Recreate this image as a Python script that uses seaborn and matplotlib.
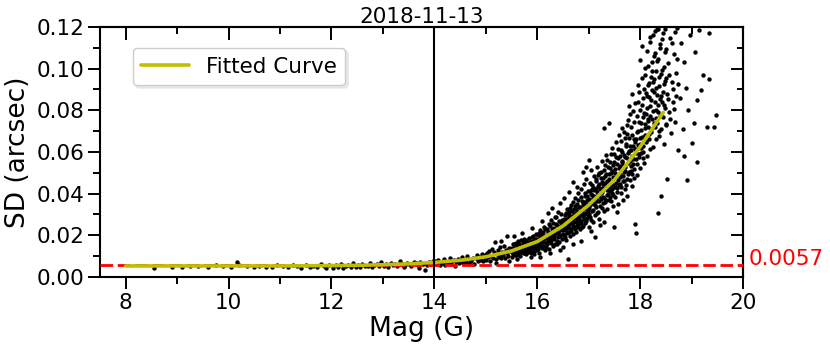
import numpy as np
import pandas as pd
import matplotlib
matplotlib.use("Agg")
import matplotlib.pyplot as plt
from matplotlib.ticker import MultipleLocator
import seaborn as sns

# ---------------- data ----------------
title_text = "2018-11-13"
x_label = "Mag (G)"
y_label = "SD (arcsec)"
legend_label = "Fitted Curve"
floor_value = 0.0057          # red dashed reference level (arcsec)
cut_mag = 14.0                # vertical line
x_ticks = [8, 10, 12, 14, 16, 18, 20]
y_ticks = [0.00, 0.02, 0.04, 0.06, 0.08, 0.10, 0.12]

# fitted curve: magnitude and SD (arcsec)
curve_mag = [8.0, 8.5, 9.0, 9.5, 10.0, 10.5, 11.0, 11.5, 12.0, 12.5, 13.0, 13.5,
             14.0, 14.5, 15.0, 15.5, 16.0, 16.5, 17.0, 17.5, 18.0, 18.45]
curve_sd = [0.0053, 0.0053, 0.0053, 0.0053, 0.0053, 0.0053, 0.0053, 0.0054, 0.0055,
            0.0056, 0.0059, 0.0063, 0.0070, 0.0080, 0.0097, 0.0125, 0.0170, 0.0245,
            0.0345, 0.0466, 0.0625, 0.0790]

# scattered stars: (magnitude, SD in milli-arcsec), grouped by magnitude range
stars_bright = [(8.55,4.3),(8.9,5.0),(9.1,4.6),(9.25,5.4),(9.4,5.2),(9.6,4.8),(9.75,5.6),
    (9.9,5.1),(10.05,4.9),(10.17,7.4),(10.2,5.8),(10.35,5.3),(10.5,4.7),(10.6,5.5),(10.72,5.0),
    (10.85,4.6),(10.95,5.7),(11.05,5.2),(11.15,4.8),(11.25,5.9),(11.32,5.1),(11.4,4.5),(11.5,5.6),
    (11.58,5.0),(11.65,5.4),(11.72,4.7),(11.8,6.3),(11.85,5.2),(11.9,4.4),(11.95,5.8)]

stars_12_14 = [(12.02,4.2),(12.08,5.6),(12.12,4.9),(12.18,6.1),(12.22,4.5),(12.28,5.3),(12.33,5.9),
    (12.38,4.7),(12.42,6.6),(12.47,5.0),(12.52,5.8),(12.56,4.6),(12.6,6.3),(12.65,5.4),(12.7,5.1),
    (12.74,6.8),(12.78,4.8),(12.83,5.7),(12.88,6.0),(12.92,5.2),(12.97,7.3),(13.02,5.5),(13.06,6.4),
    (13.1,4.9),(13.15,6.9),(13.2,5.8),(13.24,6.2),(13.28,5.1),(13.33,7.6),(13.37,6.0),(13.42,5.6),
    (13.46,6.8),(13.5,6.3),(13.55,5.3),(13.6,7.1),(13.64,6.5),(13.68,5.9),(13.72,7.4),(13.77,6.2),
    (13.82,3.4),(13.86,5.7),(13.9,7.0),(13.94,6.4),(13.98,7.8),(13.7,4.4),(13.4,4.6)]

stars_14_15 = [(14.02,7.5),(14.05,6.2),(14.08,8.1),(14.1,5.6),(14.13,7.0),(14.16,6.6),(14.19,8.6),
    (14.21,5.9),(14.24,7.3),(14.27,6.8),(14.3,9.0),(14.32,6.1),(14.35,7.7),(14.38,8.3),(14.4,5.4),
    (14.43,7.1),(14.46,8.8),(14.48,6.5),(14.51,7.9),(14.54,9.4),(14.56,6.9),(14.59,8.2),(14.62,7.4),
    (14.64,10.1),(14.67,6.7),(14.7,8.6),(14.72,7.8),(14.75,9.3),(14.78,6.4),(14.8,8.9),(14.83,10.4),
    (14.85,7.6),(14.88,9.8),(14.9,8.3),(14.93,11.2),(14.95,7.9),(14.98,9.1),(14.99,10.7)]

stars_15_16 = [(15.01,8.2),(15.03,11.5),(15.05,9.4),(15.07,12.4),(15.08,7.6),(15.1,10.3),(15.12,13.6),
    (15.14,9.0),(15.16,11.8),(15.18,16.8),(15.19,8.5),(15.21,10.9),(15.23,12.9),(15.25,9.7),(15.27,14.2),
    (15.28,11.1),(15.3,8.9),(15.32,12.2),(15.34,10.4),(15.36,15.1),(15.37,9.3),(15.39,13.0),(15.41,11.6),
    (15.42,19.8),(15.44,10.0),(15.46,14.0),(15.48,12.5),(15.5,9.6),(15.51,11.9),(15.53,16.0),(15.55,13.3),
    (15.57,10.6),(15.58,12.8),(15.6,15.2),(15.62,11.0),(15.63,17.3),(15.65,13.7),(15.67,10.2),(15.69,14.6),
    (15.7,12.1),(15.72,16.4),(15.74,11.4),(15.75,18.1),(15.77,13.9),(15.79,10.8),(15.8,15.5),(15.82,12.6),
    (15.84,17.0),(15.85,14.3),(15.87,11.7),(15.89,19.2),(15.9,13.1),(15.92,16.2),(15.94,10.9),(15.95,15.0),
    (15.97,12.9),(15.98,18.4),(15.99,14.8),(15.6,8.7),(15.88,9.8)]

stars_16_17 = [(16.01,13.2),(16.02,20.1),(16.03,16.4),(16.04,11.6),(16.05,18.7),(16.06,22.4),(16.07,15.0),
    (16.08,19.5),(16.09,13.9),(16.1,17.3),(16.11,21.6),(16.12,14.7),(16.13,18.2),(16.14,24.0),(16.15,12.8),
    (16.16,19.9),(16.17,16.5),(16.18,22.8),(16.19,15.6),(16.2,20.4),(16.21,17.4),(16.22,25.3),(16.23,13.6),
    (16.24,21.1),(16.25,18.9),(16.26,27.5),(16.27,16.2),(16.28,23.0),(16.29,19.7),(16.3,14.9),(16.3,22.1),
    (16.31,26.0),(16.32,18.3),(16.33,23.6),(16.34,15.8),(16.35,20.7),(16.36,28.9),(16.37,22.5),(16.38,17.1),
    (16.39,24.8),(16.4,19.4),(16.4,31.2),(16.41,21.3),(16.42,26.7),(16.43,16.9),(16.44,24.2),(16.45,19.8),
    (16.46,30.1),(16.47,22.7),(16.48,18.4),(16.49,27.4),(16.5,23.9),(16.5,14.6),(16.51,25.6),(16.52,20.3),
    (16.53,29.8),(16.54,23.1),(16.55,17.9),(16.56,27.0),(16.57,32.5),(16.58,21.8),(16.59,25.0),(16.6,8.6),
    (16.6,28.4),(16.61,23.5),(16.62,31.0),(16.63,19.6),(16.64,26.8),(16.65,34.7),(16.66,22.2),(16.67,29.3),
    (16.68,25.4),(16.69,36.2),(16.7,20.8),(16.7,27.9),(16.71,32.6),(16.72,24.1),(16.73,28.7),(16.74,38.0),
    (16.75,21.5),(16.76,30.9),(16.77,26.3),(16.78,35.1),(16.79,23.8),(16.8,29.6),(16.8,40.4),(16.81,27.2),
    (16.82,33.8),(16.83,22.9),(16.84,31.4),(16.85,42.3),(16.86,26.0),(16.87,36.5),(16.88,29.1),(16.89,24.6),
    (16.9,34.0),(16.9,44.8),(16.91,30.3),(16.92,38.7),(16.93,25.7),(16.94,33.2),(16.95,47.0),(16.96,28.4),
    (16.97,36.9),(16.98,31.8),(16.99,41.5),(17.0,24.0),(17.0,56.0)]

stars_17_18 = [(17.01,33.0),(17.02,45.2),(17.03,28.6),(17.04,39.8),(17.05,51.5),(17.06,31.7),(17.07,42.4),
    (17.08,36.1),(17.09,26.5),(17.1,48.3),(17.1,38.9),(17.05,35.5),(17.11,41.6),(17.12,34.4),(17.13,19.0),
    (17.14,46.9),(17.15,37.2),(17.16,53.0),(17.17,30.8),(17.18,43.5),(17.19,39.6),(17.2,28.0),(17.2,49.8),
    (17.15,42.0),(17.21,36.7),(17.22,25.0),(17.23,47.4),(17.24,40.1),(17.25,55.6),(17.26,33.3),(17.27,44.8),
    (17.28,38.4),(17.29,51.2),(17.3,31.9),(17.3,71.6),(17.25,42.9),(17.31,48.6),(17.32,35.8),(17.33,43.1),
    (17.34,58.4),(17.35,39.5),(17.36,32.4),(17.37,52.7),(17.38,45.6),(17.39,37.0),(17.4,74.0),(17.4,49.3),
    (17.35,46.2),(17.41,41.4),(17.42,55.0),(17.43,36.3),(17.44,49.9),(17.45,62.1),(17.46,44.0),(17.47,33.9),
    (17.48,53.6),(17.49,24.0),(17.5,47.5),(17.5,59.2),(17.45,40.2),(17.51,51.8),(17.52,38.6),(17.53,45.3),
    (17.54,64.8),(17.55,42.7),(17.56,57.3),(17.57,35.1),(17.58,49.0),(17.59,68.2),(17.6,44.6),(17.6,53.4),
    (17.55,31.0),(17.61,47.8),(17.62,61.0),(17.63,40.3),(17.64,55.7),(17.65,71.3),(17.66,45.9),(17.67,36.8),
    (17.68,58.6),(17.69,50.2),(17.7,66.5),(17.7,42.1),(17.65,53.0),(17.71,52.6),(17.72,44.2),(17.73,63.9),
    (17.74,57.1),(17.75,39.0),(17.76,75.4),(17.77,49.4),(17.78,60.3),(17.79,82.0),(17.8,46.7),(17.8,55.9),
    (17.75,68.8),(17.81,62.7),(17.82,50.8),(17.83,71.9),(17.84,43.7),(17.85,58.2),(17.86,79.6),(17.87,54.0),
    (17.88,66.0),(17.89,47.6),(17.9,25.4),(17.9,61.4),(17.85,88.0),(17.91,21.0),(17.92,56.4),(17.93,69.7),
    (17.94,48.9),(17.95,63.5),(17.96,84.2),(17.97,58.8),(17.98,74.3),(17.99,52.1),(18.0,104.0),(18.0,66.9),
    (17.95,92.0)]

stars_18_19 = [(18.01,70.5),(18.02,59.3),(18.03,82.6),(18.04,111.0),(18.05,63.0),(18.06,76.9),(18.07,54.7),
    (18.08,90.4),(18.09,68.1),(18.1,96.8),(18.1,73.2),(18.05,57.0),(18.11,78.4),(18.12,64.6),(18.13,87.1),
    (18.14,58.0),(18.15,101.5),(18.16,71.8),(18.17,93.2),(18.18,66.3),(18.19,82.0),(18.2,115.0),(18.2,61.5),
    (18.15,76.0),(18.21,84.9),(18.22,69.4),(18.23,98.7),(18.24,75.6),(18.25,62.2),(18.26,106.3),(18.27,88.8),
    (18.28,72.1),(18.29,118.0),(18.3,80.3),(18.3,66.0),(18.25,93.5),(18.31,90.6),(18.32,74.0),(18.33,103.9),
    (18.34,30.9),(18.35,82.4),(18.36,67.8),(18.37,96.1),(18.38,112.0),(18.39,77.5),(18.4,39.0),(18.4,86.7),
    (18.35,119.0),(18.41,71.0),(18.42,99.4),(18.43,84.1),(18.44,117.0),(18.45,76.9),(18.46,92.5),(18.47,64.0),
    (18.48,108.0),(18.49,81.3),(18.5,95.7),(18.53,47.0),(18.5,73.0),(18.52,88.0),(18.55,102.5),(18.57,79.4),
    (18.58,114.6),(18.6,69.0),(18.62,93.8),(18.64,84.0),(18.66,107.0),(18.68,74.5),(18.7,98.0),(18.72,119.5),
    (18.74,61.0)]

stars_faint = [(18.77,86.0),(18.8,112.5),(18.83,71.0),(18.86,103.0),(18.9,90.5),(18.92,46.6),(18.94,80.0),
    (18.97,116.0),(19.0,64.5),(19.04,74.0),(19.06,108.0),(19.11,85.0),(19.15,118.5),(19.19,89.8),(19.23,97.0),
    (19.3,72.0),(19.33,95.0),(19.33,117.0),(19.44,72.0),(19.48,77.8),(19.1,55.0),(18.85,58.0)]

# extra stars filling the dense part of the cloud
stars_dense_a = [(15.505,12.0),(15.515,14.1),(15.525,10.9),(15.535,13.0),(15.545,15.6),(15.555,11.4),
    (15.565,13.8),(15.575,12.3),(15.585,16.5),(15.595,10.4),(15.605,13.5),(15.615,12.0),(15.625,14.9),
    (15.635,11.2),(15.645,16.0),(15.655,12.8),(15.665,14.4),(15.675,11.9),(15.685,17.6),(15.695,13.2),
    (15.705,15.1),(15.715,12.4),(15.725,14.0),(15.735,16.9),(15.745,11.6),(15.755,13.6),(15.765,15.8),
    (15.775,12.2),(15.785,17.8),(15.795,14.5),(15.805,13.0),(15.815,16.3),(15.825,11.8),(15.835,15.0),
    (15.845,18.6),(15.855,13.4),(15.865,16.8),(15.875,14.1),(15.885,12.0),(15.895,17.2),(15.905,15.4),
    (15.915,19.6),(15.925,13.8),(15.935,16.6),(15.945,12.6),(15.955,18.0),(15.965,14.6),(15.975,20.5),
    (15.985,16.1),(15.995,13.3),(16.015,17.8),(16.035,21.0),(16.055,15.4),(16.075,18.1),(16.095,20.8),
    (16.115,16.6),(16.135,19.4),(16.155,23.1),(16.175,14.2),(16.195,18.6),(16.215,21.7),(16.235,19.0),
    (16.255,24.4),(16.275,17.9),(16.295,20.9),(16.315,22.9),(16.335,19.1),(16.355,25.2),(16.375,16.0),
    (16.395,21.8),(16.415,23.8),(16.435,20.2),(16.455,26.0),(16.475,24.6),(16.495,20.6)]

stars_dense_b = [(16.505,22.4),(16.515,27.9),(16.525,24.0),(16.535,19.2),(16.545,26.2),(16.555,30.6),
    (16.565,23.4),(16.575,28.0),(16.585,20.9),(16.595,26.6),(16.605,24.3),(16.615,29.7),(16.625,21.4),
    (16.635,33.0),(16.645,25.9),(16.655,28.6),(16.665,23.0),(16.675,31.6),(16.685,27.1),(16.695,24.5),
    (16.705,30.1),(16.715,26.4),(16.725,34.2),(16.735,22.8),(16.745,29.0),(16.755,32.7),(16.765,27.6),
    (16.775,24.9),(16.785,31.3),(16.795,36.8),(16.805,28.3),(16.815,25.5),(16.825,33.5),(16.835,30.2),
    (16.845,27.0),(16.855,38.4),(16.865,31.9),(16.875,24.2),(16.885,34.8),(16.895,29.4),(16.905,36.1),
    (16.915,27.7),(16.925,32.6),(16.935,40.2),(16.945,30.7),(16.955,26.8),(16.965,35.2),(16.975,39.0),
    (16.985,29.9),(16.995,33.9),(17.005,37.6),(17.015,30.4),(17.025,41.3),(17.035,34.6),(17.045,27.3),
    (17.055,39.2),(17.065,44.1),(17.075,32.1),(17.085,37.9),(17.095,35.0),(17.105,42.8),(17.115,29.6),
    (17.125,38.2),(17.135,46.0),(17.145,33.6),(17.155,40.7),(17.165,36.4),(17.175,48.8),(17.185,31.2),
    (17.195,44.6),(17.205,38.8),(17.215,42.0),(17.225,34.0),(17.235,50.4),(17.245,37.5),(17.255,45.8),
    (17.265,40.6),(17.275,35.6),(17.285,47.3),(17.295,42.5),(17.305,38.0),(17.315,53.6),(17.325,44.9),
    (17.335,36.9),(17.345,49.6),(17.355,41.8),(17.365,56.2),(17.375,39.9),(17.385,47.1),(17.395,43.3),
    (17.405,52.3),(17.415,38.3),(17.425,45.0),(17.435,58.9),(17.445,42.4),(17.455,50.7),(17.465,47.9),
    (17.475,39.4),(17.485,55.3),(17.495,44.3)]

stars_dense_c = [(17.505,50.0),(17.515,43.0),(17.525,57.8),(17.535,48.2),(17.545,40.6),(17.555,54.1),
    (17.565,61.5),(17.575,46.4),(17.585,52.5),(17.595,44.0),(17.605,58.0),(17.615,49.6),(17.625,65.4),
    (17.635,43.4),(17.645,55.0),(17.655,60.2),(17.665,48.4),(17.675,53.8),(17.685,69.5),(17.695,46.0),
    (17.705,57.6),(17.715,51.0),(17.725,62.8),(17.735,47.0),(17.745,72.8),(17.755,54.6),(17.765,59.3),
    (17.775,50.5),(17.785,66.7),(17.795,56.1),(17.805,78.0),(17.815,53.2),(17.825,60.8),(17.835,49.2),
    (17.845,68.2),(17.855,62.9),(17.865,56.7),(17.875,74.6),(17.885,51.9),(17.895,64.6),(17.905,83.5),
    (17.915,59.6),(17.925,66.3),(17.935,54.3),(17.945,77.1),(17.955,61.7),(17.965,70.2),(17.975,57.4),
    (17.985,88.6),(17.995,64.0),(18.005,80.1),(18.015,61.9),(18.025,73.9),(18.035,95.4),(18.045,67.2),
    (18.055,85.8),(18.065,60.1),(18.075,78.8),(18.085,100.2),(18.095,71.4),(18.105,88.1),(18.115,65.2),
    (18.125,81.0),(18.135,108.5),(18.145,74.8),(18.155,92.0),(18.165,68.6),(18.175,86.4),(18.185,112.8),
    (18.195,77.2),(18.205,96.2),(18.215,70.8),(18.225,89.6),(18.235,103.0),(18.245,79.9),(18.255,116.2),
    (18.265,73.7),(18.275,94.8),(18.285,84.0),(18.295,107.6),(18.305,76.2),(18.315,99.0),(18.325,87.5),
    (18.335,118.8),(18.345,79.0),(18.355,104.4),(18.365,91.7),(18.375,70.3),(18.385,110.0),(18.395,85.2),
    (18.405,97.4),(18.415,77.8),(18.425,114.0),(18.435,89.0),(18.455,101.0),(18.465,82.7),(18.475,119.2),
    (18.485,94.0),(18.495,73.5),(18.51,109.5),(18.545,85.6),(18.565,97.0),(18.585,76.0),(18.615,112.2),
    (18.635,90.2),(18.655,80.5),(18.675,117.8),(18.695,87.0),(18.715,104.5),(18.735,92.8)]

# stars at the upper and lower edges of the cloud
stars_edges = [(16.1,27.0),(16.2,30.5),(16.28,33.0),(16.35,29.0),(16.45,35.5),(16.52,38.0),
    (16.62,41.0),(16.7,45.5),(16.78,43.0),(16.88,50.5),(16.95,53.0),(16.05,9.8),(16.25,11.5),
    (16.45,13.0),(16.7,16.0),(16.85,17.5),(17.05,22.0),(17.3,26.5),(15.3,17.5),(15.55,19.5),
    (15.7,21.0),(15.9,23.5),(15.45,7.9),(15.2,6.9)]

# ---------------- build tables ----------------
all_stars = (stars_bright + stars_12_14 + stars_14_15 + stars_15_16 +
             stars_16_17 + stars_17_18 + stars_18_19 + stars_faint +
             stars_dense_a + stars_dense_b + stars_dense_c + stars_edges)
stars = pd.DataFrame(all_stars, columns=["mag", "sd_mas"])
stars["sd"] = stars["sd_mas"] / 1000.0
curve = pd.DataFrame({"mag": curve_mag, "sd": curve_sd})

# ---------------- figure ----------------
sns.set_theme(style="white")
plt.rcParams["font.family"] = ["DejaVu Sans"]
plt.rcParams["text.color"] = "black"
plt.rcParams["axes.labelcolor"] = "black"
plt.rcParams["xtick.color"] = "black"
plt.rcParams["ytick.color"] = "black"

fig = plt.figure(figsize=(8.3, 3.5), dpi=100)
ax = fig.add_axes([0.1205, 0.2086, 0.7747, 0.7143])

sns.scatterplot(data=stars, x="mag", y="sd", s=10, color="black", linewidth=0,
                ax=ax, zorder=2, legend=False)
ax.axhline(floor_value, color="red", lw=2.0, dashes=(4.5, 1.7), zorder=3)
sns.lineplot(data=curve, x="mag", y="sd", color="#bfbf00", lw=2.6,
             label=legend_label, ax=ax, zorder=4)
ax.axvline(cut_mag, color="black", lw=1.5, zorder=5)

ax.set_xlim(7.5, 20)
ax.set_ylim(0, 0.12)
ax.set_xticks(x_ticks)
ax.set_yticks(y_ticks)
ax.set_yticklabels([f"{v:.2f}" for v in y_ticks])
ax.xaxis.set_minor_locator(MultipleLocator(1))
ax.yaxis.set_minor_locator(MultipleLocator(0.01))
ax.tick_params(which="major", direction="out", length=8.5, width=1.4,
               labelsize=15.5, color="black", labelcolor="black",
               bottom=True, left=True, top=False, right=False, pad=3)
ax.tick_params(which="minor", direction="out", length=5, width=1.4,
               color="black", bottom=True, left=True, top=False, right=False)

for sp in ax.spines.values():
    sp.set_visible(True)
    sp.set_color("black")
    sp.set_linewidth(1.5)

# inward ticks on top and right
secx = ax.secondary_xaxis("top")
secx.set_xticks(x_ticks)
secx.xaxis.set_minor_locator(MultipleLocator(1))
secx.tick_params(which="major", direction="in", length=9.5, width=1.4, labeltop=False, color="black")
secx.tick_params(which="minor", direction="in", length=5, width=1.4, color="black")
secx.spines["top"].set_linewidth(1.5)
secx.spines["top"].set_color("black")

secy = ax.secondary_yaxis("right")
secy.set_yticks(y_ticks)
secy.yaxis.set_minor_locator(MultipleLocator(0.01))
secy.tick_params(which="major", direction="in", length=8.5, width=1.4, labelright=False, color="black")
secy.tick_params(which="minor", direction="in", length=4.5, width=1.4, color="black")
secy.spines["right"].set_linewidth(1.5)
secy.spines["right"].set_color("black")

ax.set_xlabel(x_label, fontsize=19, labelpad=2, color="black")
ax.set_ylabel(y_label, fontsize=19, labelpad=4, color="black")
ax.set_title(title_text, fontsize=15.5, pad=3, color="black")

ax.text(20.1, floor_value, f"{floor_value:.4f}", color="red", fontsize=15.5,
        va="baseline", ha="left", clip_on=False)

leg = ax.legend(loc="upper left", bbox_to_anchor=(0.051, 0.916), borderaxespad=0,
                fontsize=15.5, handlelength=2.2, handletextpad=0.8, frameon=True,
                fancybox=True, framealpha=1, edgecolor="0.8",
                shadow={"color": "0.88", "alpha": 0.7})
for t in leg.get_texts():
    t.set_color("black")

fig.savefig("out.png", dpi=100)
